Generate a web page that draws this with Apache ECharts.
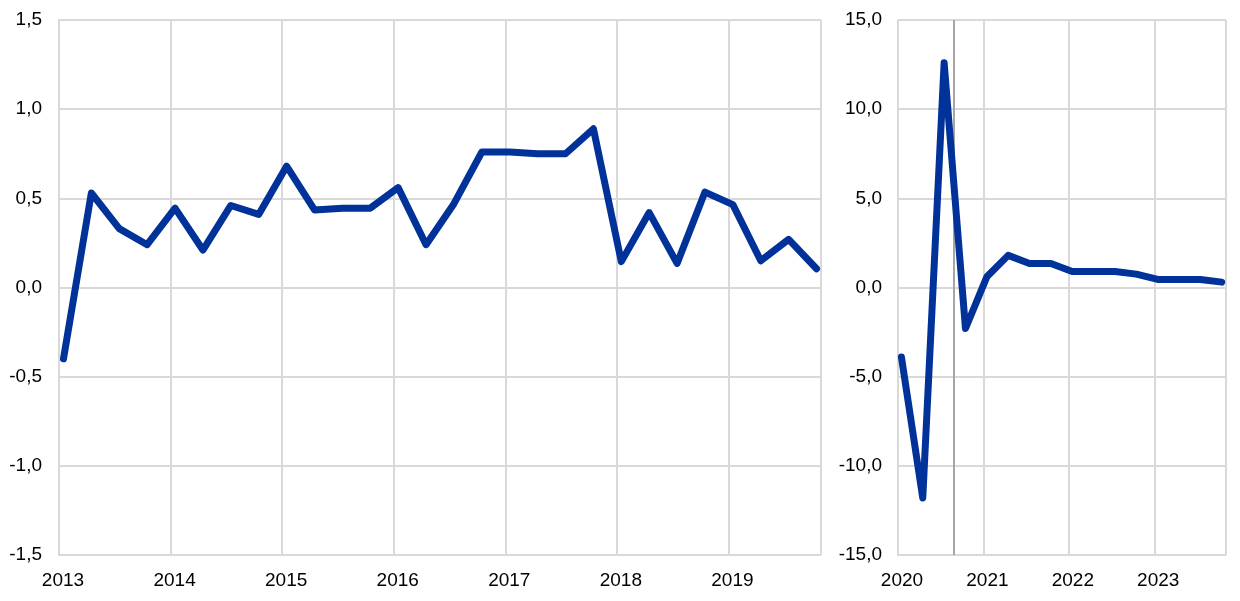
<!DOCTYPE html>
<html>
<head>
<meta charset="utf-8">
<script src="https://cdn.jsdelivr.net/npm/echarts@6/dist/echarts.min.js"></script>
<style>html,body{margin:0;padding:0;background:#fff}#c{width:1240px;height:601px}</style>
</head>
<body>
<div id="c"></div>
<script>
// Quarterly data, left panel (2013Q1–2019Q4)
const leftQuarters = ['2013Q1','2013Q2','2013Q3','2013Q4','2014Q1','2014Q2','2014Q3','2014Q4','2015Q1','2015Q2','2015Q3','2015Q4','2016Q1','2016Q2','2016Q3','2016Q4','2017Q1','2017Q2','2017Q3','2017Q4','2018Q1','2018Q2','2018Q3','2018Q4','2019Q1','2019Q2','2019Q3','2019Q4'];
const leftValues = [-0.40,0.53,0.33,0.24,0.445,0.21,0.46,0.41,0.68,0.435,0.445,0.445,0.56,0.24,0.47,0.76,0.76,0.75,0.75,0.89,0.145,0.42,0.135,0.535,0.465,0.15,0.27,0.105];
// Right panel (2020Q1–2023Q4)
const rightQuarters = ['2020Q1','2020Q2','2020Q3','2020Q4','2021Q1','2021Q2','2021Q3','2021Q4','2022Q1','2022Q2','2022Q3','2022Q4','2023Q1','2023Q2','2023Q3','2023Q4'];
const rightValues = [-3.9,-11.8,12.6,-2.3,0.6,1.8,1.35,1.35,0.9,0.9,0.9,0.75,0.45,0.45,0.45,0.3];
const leftYTicks = [-1.5,-1.0,-0.5,0.0,0.5,1.0,1.5];
const rightYTicks = [-15,-10,-5,0,5,10,15];
const separatorX = 2020.65;

// quarter -> decimal year (mid of first month of the quarter)
function qx(q){ const y = +q.slice(0,4), n = +q.slice(5); return y + (n-1)*0.25 + 0.04; }

const fmt = v => v.toFixed(1).replace('.', ',');
const grid = '#d9d9d9';
const font = {color:'#000', fontSize:19, fontFamily:'"Liberation Sans", Arial, sans-serif'};

const xAxisBase = (min, max) => ({
  type:'value', min:min, max:max, interval:1,
  axisLine:{show:true, lineStyle:{color:grid, width:2}},
  axisTick:{show:false},
  splitLine:{show:true, lineStyle:{color:grid, width:2}},
  axisLabel:Object.assign({margin:16, padding:[0,0,0,8], showMaxLabel:false,
    formatter: v => Number.isInteger(v) ? String(v) : ''}, font)
});
const yAxisBase = (ticks, margin) => ({
  type:'value', min:ticks[0], max:ticks[ticks.length-1], interval:ticks[1]-ticks[0],
  axisLine:{show:true, lineStyle:{color:grid, width:2}},
  axisTick:{show:false},
  splitLine:{show:true, lineStyle:{color:grid, width:2}},
  axisLabel:Object.assign({margin:margin, formatter: fmt}, font)
});

const chart = echarts.init(document.getElementById('c'), null, {renderer:'canvas'});
chart.setOption({
  animation:false,
  backgroundColor:'#fff',
  grid:[
    {left:59, top:20, width:762, height:535},
    {left:898, top:20, width:328, height:535}
  ],
  xAxis:[
    Object.assign(xAxisBase(2013, 2019.83), {gridIndex:0}),
    Object.assign(xAxisBase(2020, 2023.84), {gridIndex:1})
  ],
  yAxis:[
    Object.assign(yAxisBase(leftYTicks, 17), {gridIndex:0}),
    Object.assign(yAxisBase(rightYTicks, 16), {gridIndex:1})
  ],
  series:[
    {type:'line', xAxisIndex:0, yAxisIndex:0, symbol:'none',
     lineStyle:{color:'#003299', width:7, cap:'round', join:'round'},
     data: leftQuarters.map((q,i)=>[qx(q), leftValues[i]])},
    {type:'line', xAxisIndex:1, yAxisIndex:1, symbol:'none',
     lineStyle:{color:'#003299', width:7, cap:'round', join:'round'},
     data: rightQuarters.map((q,i)=>[qx(q), rightValues[i]]),
     markLine:{silent:true, symbol:'none', label:{show:false}, z:1,
       lineStyle:{color:'#a6a6a6', width:2, type:'solid'},
       data:[{xAxis:separatorX}]}}
  ]
});
</script>
</body>
</html>
